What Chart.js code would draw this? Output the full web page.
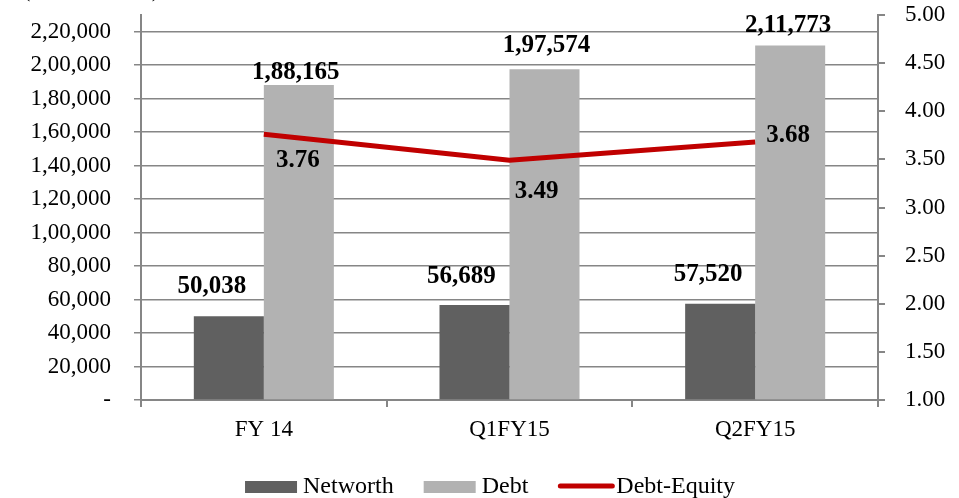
<!DOCTYPE html>
<html>
<head>
<meta charset="utf-8">
<script src="https://cdn.jsdelivr.net/npm/chart.js@4.4.1/dist/chart.umd.min.js"></script>
<style>
    html, body { margin: 0; padding: 0; background: #fff; }
    #wrap { width: 959px; height: 498px; position: relative; }
</style>
</head>
<body>
<div id="wrap"><canvas id="debtChart"></canvas></div>
<script>
/* =========================================================
   DATA
========================================================= */
const categories = ['FY 14', 'Q1FY15', 'Q2FY15'];
const networth = [50038, 56689, 57520];
const debt = [188165, 197574, 211773];
const debtEquity = [3.76, 3.49, 3.68];

const leftTicks = [0, 20000, 40000, 60000, 80000, 100000, 120000, 140000, 160000, 180000, 200000, 220000];
const rightTicks = [1.0, 1.5, 2.0, 2.5, 3.0, 3.5, 4.0, 4.5, 5.0];

const unitNote = '(Rs. in Crore)';

/* =========================================================
   STYLE
========================================================= */
const fontFamily = '"Liberation Serif", "Times New Roman", serif';
const colNetworth = '#606060';
const colDebt = '#b2b2b2';
const colLine = '#c00000';
const colAxis = '#868686';

// label nudges: [dx, dy] from the mark (bar top / line point)
const nwNudge = [[-17, -23], [-13, -22], [-12, -23]];
const debtNudge = [[-3, -6], [2, -17], [-2, -14]];
const deNudge = [[34, 33], [27, 38], [33, 0]];

/* =========================================================
   HELPER
========================================================= */
function inr(n) {
    const s = String(Math.round(n));
    if (s.length <= 3) return s;
    const last3 = s.slice(-3);
    const rest = s.slice(0, -3).replace(/\B(?=(\d{2})+(?!\d))/g, ',');
    return rest + ',' + last3;
}

function noVerticalPadding(scale) {
    scale.paddingTop = 0;
    scale.paddingBottom = 0;
}

/* =========================================================
   PLUGINS
========================================================= */
const valueLabels = {
    id: 'valueLabels',
    afterDatasetsDraw(chart) {
        const ctx = chart.ctx;
        ctx.save();
        ctx.font = 'bold 25px ' + fontFamily;
        ctx.fillStyle = '#000';
        ctx.textAlign = 'center';
        ctx.textBaseline = 'alphabetic';

        const sets = [
            { idx: 0, nudge: nwNudge, fmt: inr },
            { idx: 1, nudge: debtNudge, fmt: inr },
            { idx: 2, nudge: deNudge, fmt: v => v.toFixed(2) }
        ];
        sets.forEach(s => {
            const meta = chart.getDatasetMeta(s.idx);
            const values = chart.data.datasets[s.idx].data;
            meta.data.forEach((el, i) => {
                ctx.fillText(s.fmt(values[i]), el.x + s.nudge[i][0], el.y + s.nudge[i][1]);
            });
        });
        ctx.restore();
    }
};

const customLegend = {
    id: 'customLegend',
    afterDraw(chart) {
        const ctx = chart.ctx;
        ctx.save();
        ctx.font = '24px ' + fontFamily;
        ctx.textBaseline = 'alphabetic';
        ctx.fillStyle = '#000';

        const items = chart.data.datasets.map(ds => ({
            text: ds.label,
            type: ds.type || 'bar',
            color: ds.type === 'line' ? ds.borderColor : ds.backgroundColor
        }));
        const swatch = 54, gapText = 4, gapItem = 30;
        let total = 0;
        items.forEach((it, i) => {
            it.w = ctx.measureText(it.text).width;
            total += swatch + gapText + it.w + (i < items.length - 1 ? gapItem : 0);
        });

        let x = 490 - total / 2;
        const baseY = 493;
        items.forEach(it => {
            if (it.type === 'line') {
                ctx.strokeStyle = it.color;
                ctx.lineWidth = 5;
                ctx.lineCap = 'round';
                ctx.beginPath();
                ctx.moveTo(x + 2, baseY - 7);
                ctx.lineTo(x + swatch, baseY - 7);
                ctx.stroke();
            } else {
                ctx.fillStyle = it.color;
                ctx.fillRect(x, baseY - 12, swatch - 2, 12);
            }
            ctx.fillStyle = '#000';
            ctx.fillText(it.text, x + swatch + gapText, baseY);
            x += swatch + gapText + it.w + gapItem;
        });

        // unit note, cut off at the top edge as in the source
        ctx.font = '25px ' + fontFamily;
        ctx.fillText(unitNote, 22, -4);
        ctx.restore();
    }
};

/* =========================================================
   CHART INIT
========================================================= */
Chart.defaults.font.family = fontFamily;
Chart.defaults.color = '#000';

new Chart(document.getElementById('debtChart'), {
    data: {
        labels: categories,
        datasets: [
            {
                type: 'bar',
                label: 'Networth',
                data: networth,
                backgroundColor: colNetworth,
                yAxisID: 'y',
                order: 1,
                categoryPercentage: 0.57,
                barPercentage: 1
            },
            {
                type: 'bar',
                label: 'Debt',
                data: debt,
                backgroundColor: colDebt,
                yAxisID: 'y',
                order: 1,
                categoryPercentage: 0.57,
                barPercentage: 1
            },
            {
                type: 'line',
                label: 'Debt-Equity',
                data: debtEquity,
                borderColor: colLine,
                borderWidth: 5,
                pointRadius: 0,
                tension: 0,
                yAxisID: 'y1',
                order: 0
            }
        ]
    },
    options: {
        responsive: true,
        maintainAspectRatio: false,
        animation: false,
        layout: { padding: { top: 15, left: 0, right: 0, bottom: 0 } },
        plugins: {
            legend: { display: false },
            tooltip: { enabled: false }
        },
        scales: {
            x: {
                offset: true,
                grid: {
                    offset: true,
                    drawOnChartArea: false,
                    color: colAxis,
                    lineWidth: 2,
                    tickLength: 7
                },
                border: { color: colAxis, width: 2 },
                ticks: {
                    font: { size: 23 },
                    padding: 9
                },
                afterFit(scale) {
                    scale.height = 98;
                    scale.paddingLeft = 0;
                    scale.paddingRight = 0;
                }
            },
            y: {
                position: 'left',
                min: 0,
                max: 230000,
                afterBuildTicks(scale) {
                    scale.ticks = leftTicks.map(v => ({ value: v }));
                },
                grid: {
                    color: colAxis,
                    lineWidth: 1.5,
                    tickLength: 7
                },
                border: { color: colAxis, width: 2 },
                ticks: {
                    font: { size: 23 },
                    padding: 23,
                    callback: v => (v === 0 ? '-' : inr(v))
                },
                afterFit(scale) {
                    scale.width = 141;
                    noVerticalPadding(scale);
                }
            },
            y1: {
                position: 'right',
                min: 1,
                max: 5,
                afterBuildTicks(scale) {
                    scale.ticks = rightTicks.map(v => ({ value: v }));
                },
                grid: {
                    drawOnChartArea: false,
                    color: colAxis,
                    lineWidth: 2,
                    tickLength: 7
                },
                border: { color: colAxis, width: 2 },
                ticks: {
                    font: { size: 23 },
                    padding: 20,
                    callback: v => Number(v).toFixed(2)
                },
                afterFit(scale) {
                    scale.width = 81;
                    noVerticalPadding(scale);
                }
            }
        }
    },
    plugins: [valueLabels, customLegend]
});
</script>
</body>
</html>
